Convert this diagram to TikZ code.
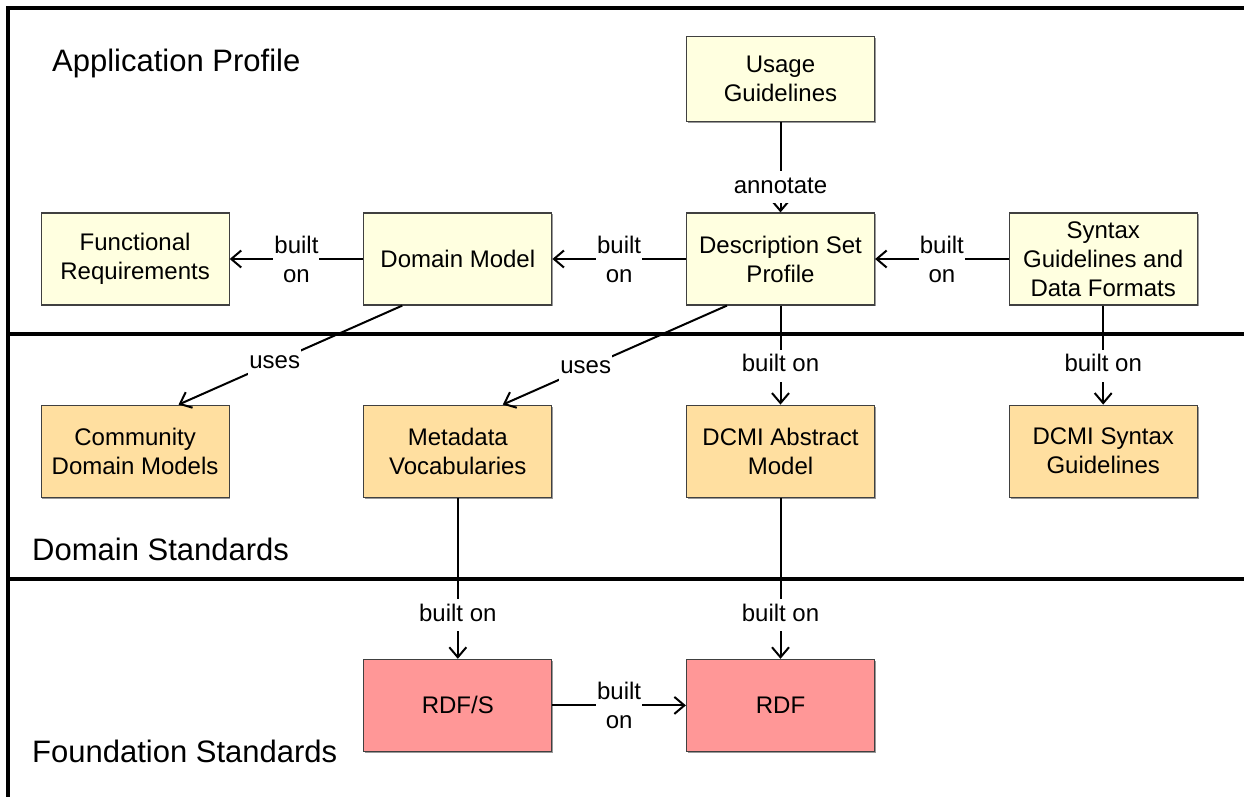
\documentclass[tikz,border=0pt]{standalone}
\usepackage{fontspec}
\setmainfont{Liberation Sans}
\usepackage{tikz}
\usetikzlibrary{positioning,arrows.meta,shadows}

\definecolor{appyellow}{RGB}{255,255,224}
\definecolor{domorange}{RGB}{255,223,160}
\definecolor{fndred}{RGB}{255,151,151}

\tikzset{
	box/.style={rectangle, draw=black!75, line width=1.2pt, minimum width=188pt, minimum height=92pt,
		inner sep=2pt, align=center, font=\fontsize{24}{29}\selectfont,
		drop shadow={shadow xshift=1.3pt, shadow yshift=-1.3pt, fill=black!40, opacity=1}},
	appbox/.style={box, fill=appyellow},
	dombox/.style={box, fill=domorange},
	fndbox/.style={box, fill=fndred},
	link/.style={->, line width=2pt},
	lbl/.style={fill=white, inner xsep=1pt, inner ysep=1pt, text height=21pt, text depth=9pt, font=\fontsize{24}{29}\selectfont},
	lbltwo/.style={fill=white, inner sep=1pt, align=center, font=\fontsize{24}{29}\selectfont},
	layer/.style={anchor=base west, inner sep=0pt, font=\fontsize{31}{36}\selectfont},
	sep/.style={-, line width=4.5pt}
}

\begin{document}
\begin{tikzpicture}[>={Straight Barb[length=10pt,width=17pt]}, x=1pt, y=-1pt, node distance=133.5pt]
	\useasboundingbox (0,0) rectangle (1244,797);
	
	% frame and layers
	\draw[sep, line join=miter] (8,797) -- (8,8) -- (1244,8);
	\draw[sep] (8,334) -- (1244,334);
	\draw[sep] (8,579) -- (1244,579);
	
	\node[layer] (aplabel) at (52,72) {Application Profile};
	\node[layer] (dslabel) at (32,560) {Domain Standards};
	\node[layer] (fslabel) at (32,762) {Foundation Standards};
	
	% application profile
	\node[appbox] (dsp) at (780.5,259) {Description Set\\Profile};
	\node[appbox] (dm) [left=of dsp] {Domain Model};
	\node[appbox] (fr) [left=of dm] {Functional\\Requirements};
	\node[appbox] (sg) [right=of dsp] {Syntax\\Guidelines and\\Data Formats};
	\node[appbox, minimum height=85pt] (ug) [above=90pt of dsp] {Usage\\Guidelines};
	
	% domain standards
	\node[dombox] (cdm) [below=99pt of fr] {Community\\Domain Models};
	\node[dombox] (mv) [below=99pt of dm] {Metadata\\Vocabularies};
	\node[dombox] (dam) [below=99pt of dsp] {DCMI Abstract\\Model};
	\node[dombox] (dsg) [below=99pt of sg] {DCMI Syntax\\Guidelines};
	
	% foundation standards
	\node[fndbox] (rdfs) [below=161pt of mv] {RDF/S};
	\node[fndbox] (rdf) [below=161pt of dam] {RDF};
	
	\draw[link] (ug) -- node[lbl, pos=0.72] {annotate} (dsp);
	\draw[link] (dm) -- node[lbltwo] {built\\on} (fr);
	\draw[link] (dsp) -- node[lbltwo] {built\\on} (dm);
	\draw[link] (sg) -- node[lbltwo] {built\\on} (dsp);
	
	\draw[link] (dm.220) -- node[lbl, pos=0.57] {uses} (cdm.47);
	\draw[link] (dsp.221) -- node[lbl, pos=0.63] {uses} (mv.46);
	\draw[link] (dsp) -- node[lbl, pos=0.61] {built on} (dam);
	\draw[link] (sg) -- node[lbl, pos=0.61] {built on} (dsg);
	
	\draw[link] (mv) -- node[lbl, pos=0.73] {built on} (rdfs);
	\draw[link] (dam) -- node[lbl, pos=0.73] {built on} (rdf);
	\draw[link] (rdfs) -- node[lbltwo] {built\\on} (rdf);
\end{tikzpicture}
\end{document}
